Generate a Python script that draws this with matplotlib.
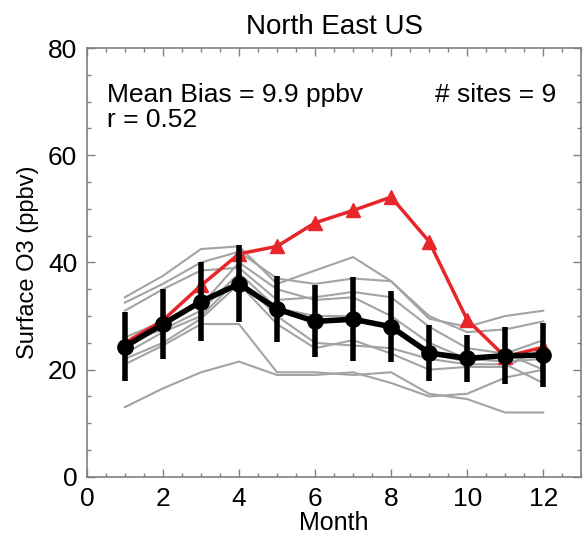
import numpy as np
import matplotlib.pyplot as plt
from matplotlib.ticker import MultipleLocator

plt.rcParams['font.family'] = ['Liberation Sans', 'DejaVu Sans']

months = np.arange(1, 13)

# observed monthly mean at each site (gray)
site_obs = [
    [33.5, 37.5, 42.5, 43.0, 36.0, 38.5, 41.0, 36.5, 29.5, 28.0, 30.0, 31.0],
    [32.5, 36.0, 40.0, 42.0, 37.0, 36.0, 37.0, 36.5, 30.0, 27.0, 27.5, 29.0],
    [31.0, 35.0, 38.5, 39.0, 33.0, 33.5, 34.5, 33.5, 28.0, 24.0, 23.0, 25.5],
    [26.0, 29.0, 32.0, 40.0, 35.0, 33.0, 33.5, 30.0, 25.0, 22.0, 21.5, 22.0],
    [25.0, 27.5, 31.0, 38.0, 31.5, 30.0, 30.0, 27.5, 23.0, 21.5, 23.0, 20.0],
    [23.0, 27.0, 30.0, 37.0, 30.0, 25.0, 24.5, 24.0, 22.0, 21.0, 21.0, 17.5],
    [22.0, 25.0, 29.5, 36.0, 28.5, 24.0, 25.5, 23.0, 20.0, 20.5, 20.5, 24.0],
    [21.0, 24.5, 28.5, 28.5, 19.5, 19.5, 19.0, 19.5, 15.5, 14.5, 12.0, 12.0],
    [13.0, 16.5, 19.5, 21.5, 19.0, 19.0, 19.5, 17.5, 15.0, 15.5, 18.5, 20.0],
]

# regional mean of observations and its spread
obs_mean = [24.3, 28.5, 32.7, 36.0, 31.3, 29.0, 29.4, 28.0, 23.1, 22.1, 22.6, 22.7]
obs_std = [6.5, 6.6, 7.3, 7.2, 6.2, 6.7, 7.8, 6.6, 5.3, 4.4, 5.3, 6.0]

# model
model = [25.0, 29.2, 35.7, 41.6, 43.0, 47.4, 49.7, 52.2, 43.9, 29.3, 22.4, 24.2]

fig = plt.figure(figsize=(5.83, 5.40), dpi=100)
ax = fig.add_axes([0.149, 0.117, 0.848, 0.794])

for s in site_obs:
    ax.plot(months, s, color='#a3a3a3', lw=1.5, zorder=1)

ax.plot(months, model, color='#e8262a', lw=2.5, marker='^', ms=10,
        mec='#e8262a', zorder=2)

ax.errorbar(months, obs_mean, yerr=obs_std, color='black', lw=4,
            elinewidth=4, capsize=0, marker='o', ms=11, zorder=3)

ax.set_xlim(0, 13)
ax.set_ylim(0, 80)
ax.xaxis.set_major_locator(MultipleLocator(2))
ax.xaxis.set_minor_locator(MultipleLocator(0.5))
ax.yaxis.set_major_locator(MultipleLocator(20))
ax.yaxis.set_minor_locator(MultipleLocator(5))
ax.tick_params(which='both', direction='in', top=True, right=True,
               color='#808080', labelsize=19, width=1)
ax.tick_params(which='major', length=6, pad=7)
ax.tick_params(which='minor', length=3)
for sp in ax.spines.values():
    sp.set_color('#808080')
    sp.set_linewidth(1.2)

ax.set_title('North East US', fontsize=20, pad=10)
ax.set_xlabel('Month', fontsize=18, labelpad=0)
ax.set_ylabel('Surface O3 (ppbv)', fontsize=17, labelpad=6)

ax.text(0.53, 71.3, 'Mean Bias = 9.9 ppbv', fontsize=19, va='center')
ax.text(0.53, 66.5, 'r = 0.52', fontsize=19, va='center')
ax.text(12.35, 71.3, '# sites = 9', fontsize=19, va='center', ha='right')

fig.savefig('out.png', dpi=100)
